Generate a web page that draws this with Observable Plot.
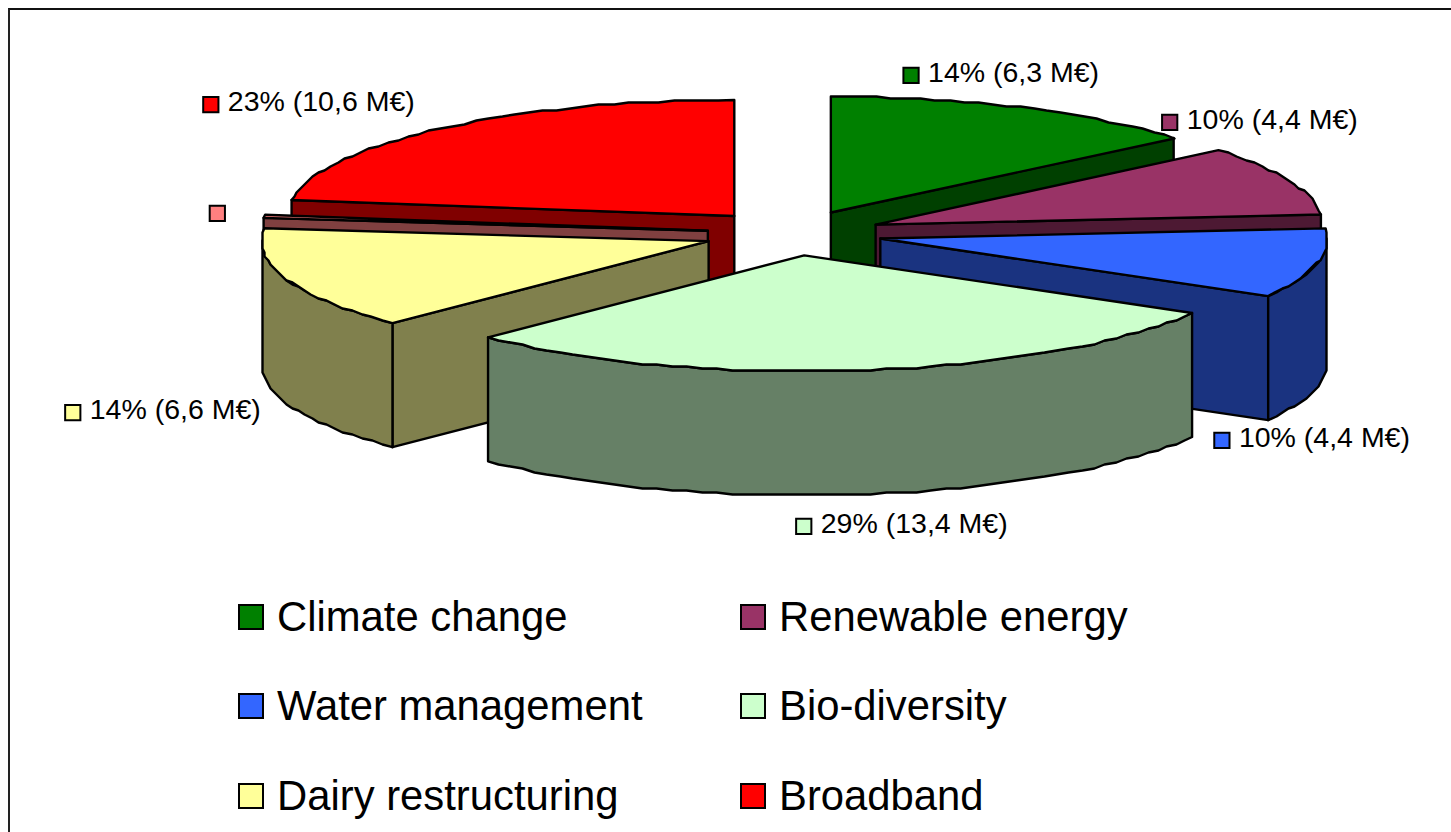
<!DOCTYPE html>
<html>
<head>
<meta charset="utf-8">
<script src="https://cdn.jsdelivr.net/npm/d3@7"></script>
<script src="https://cdn.jsdelivr.net/npm/@observablehq/plot@0.6"></script>
<style>
  html, body { margin: 0; padding: 0; background: #fff; }
  #page { position: relative; width: 1451px; height: 832px; overflow: hidden; font-family: "Liberation Sans", Arial, sans-serif; color: #000; }
  #frame { position: absolute; left: 8px; top: 8px; right: -4px; bottom: -4px; border-left: 2px solid #222; border-top: 2px solid #111; pointer-events: none; }
  #chart svg { display: block; background: transparent; }
  #legend { display: grid; grid-template-columns: 502px 502px; grid-auto-rows: 89.5px; padding-left: 238px; font-size: 41.8px; }
  #legend div.item { display: flex; align-items: center; gap: 13px; white-space: nowrap; }
  #legend span.sw { width: 26px; height: 26px; box-sizing: border-box; border: 2px solid #000; flex: none; }
</style>
</head>
<body>
<div id="page">
  <div id="frame"></div>
  <div id="chart"></div>
  <div id="legend"></div>
</div>
<script>
// ---- chart values (M€) ----
const categories = ["Climate change", "Renewable energy", "Water management", "Bio-diversity", "Dairy restructuring", "Other", "Broadband"];
const values     = [6.3, 4.4, 4.4, 13.4, 6.6, 0.2, 10.6];
const labelled   = [true, true, true, true, true, false, true];
const topColors  = ["#008000", "#993366", "#3366FF", "#CCFFCC", "#FFFF99", "#FF8080", "#FF0000"];
const sideColors = ["#004000", "#4D1933", "#1A3380", "#668066", "#80804D", "#804040", "#800000"];
const inLegend   = [0, 1, 2, 3, 4, 6];

// ---- pie geometry and label placement ----
const W = 1451, H = 572;
const cx = 792.5, cy = 233, rx = 447, ry = 116, depth = 124, explodeBy = [0.2, 0.2, 0.2, 0.19, 0.2, 0.192, 0.2];
const paintOrder = [0, 1, 2, 6, 5, 4, 3];
const labelNudgeX = [-109, -119, -95, -59.5, -214, -47, -230];
const labelNudgeY = [-32, -58, 177, 156, 133, -3, -24];

const total = d3.sum(values);
const rad = d => d * Math.PI / 180;
const warp = d => d + 1.6 * Math.sin(rad(d / 2));   // the source's projection runs slightly ahead of true angle
const snap = v => Math.round(v / 2) * 2;             // the source's coarse outline

let run = 0;
const slices = values.map((v, i) => {
  const a0 = warp(run); run += v / total * 360; const a1 = warp(run);
  const mid = (a0 + a1) / 2;
  return {
    i, a0, a1, mid,
    ax: cx + explodeBy[i] * rx * Math.sin(rad(mid)),
    ay: cy - explodeBy[i] * ry * Math.cos(rad(mid))
  };
});
const rim = (s, d) => [
  snap(s.ax + rx * Math.sin(rad(d))),
  snap(s.ay - ry * Math.cos(rad(d)))
];
const arc = (s, a, b) => {
  const pts = [];
  const n = Math.max(1, Math.ceil((b - a) / 2));
  for (let k = 0; k <= n; k++) {
    const d = a + (b - a) * k / n;
    const p = (k === 0 && d === s.a0) || (k === n && d === s.a1)
      ? [s.ax + rx * Math.sin(rad(d)), s.ay - ry * Math.cos(rad(d))]
      : rim(s, d);
    pts.push(p);
  }
  return pts;
};

const faces = [];
let faceId = 0;
const addFace = (pts, color) => {
  const id = faceId++;
  pts.forEach(([x, y]) => faces.push({x, y, id, color}));
};
for (const i of paintOrder) {
  const s = slices[i];
  const side = sideColors[i];
  const radial = d => {
    const [x, y] = [s.ax + rx * Math.sin(rad(d)), s.ay - ry * Math.cos(rad(d))];
    addFace([[s.ax, s.ay], [x, y], [x, y + depth], [s.ax, s.ay + depth]], side);
  };
  if (s.a0 > 180) radial(s.a0);              // start wall faces the viewer
  if (s.a1 < 180) radial(s.a1);              // end wall faces the viewer
  const f0 = Math.max(s.a0, 90), f1 = Math.min(s.a1, 270);
  if (f1 > f0) {                             // outer wall, front half only
    const top = arc(s, f0, f1);
    const bottom = top.map(([x, y]) => [x, y + depth]).reverse();
    addFace([...top, ...bottom], side);
  }
  addFace([[s.ax, s.ay], ...arc(s, s.a0, s.a1)], topColors[i]);  // top face
}

const fmt = v => String(v).replace(".", ",");
const labels = slices.map(s => {
  const [rimX, rimY] = [s.ax + rx * Math.sin(rad(s.mid)), s.ay - ry * Math.cos(rad(s.mid))];
  return {
    x: rimX + labelNudgeX[s.i],
    y: rimY + labelNudgeY[s.i],
    fill: topColors[s.i],
    text: labelled[s.i] ? `${Math.round(values[s.i] / total * 100)}% (${fmt(values[s.i])} M€)` : ""
  };
});

const chart = Plot.plot({
  width: W, height: H,
  margin: 0,
  x: {domain: [0, W], range: [0, W], axis: null},
  y: {domain: [0, H], range: [0, H], axis: null},
  color: {type: "identity"},
  style: {background: "transparent", fontFamily: "'Liberation Sans', Arial, sans-serif"},
  marks: [
    Plot.line(faces, {x: "x", y: "y", z: "id", fill: "color", stroke: "#000", strokeWidth: 2.4, curve: "linear-closed", strokeLinejoin: "round"}),
    Plot.dot(labels, {x: "x", y: "y", symbol: "square", r: 8.6, fill: "fill", stroke: "#000", strokeWidth: 2}),
    Plot.text(labels, {x: "x", y: "y", text: "text", dx: 17, dy: -2.5, textAnchor: "start", fontSize: 28.5, fill: "#000"})
  ]
});
document.getElementById("chart").appendChild(chart);

const legend = d3.select("#legend");
inLegend.forEach(i => {
  const item = legend.append("div").attr("class", "item");
  item.append("span").attr("class", "sw").style("background", topColors[i]);
  item.append("span").text(categories[i]);
});
</script>
</body>
</html>
